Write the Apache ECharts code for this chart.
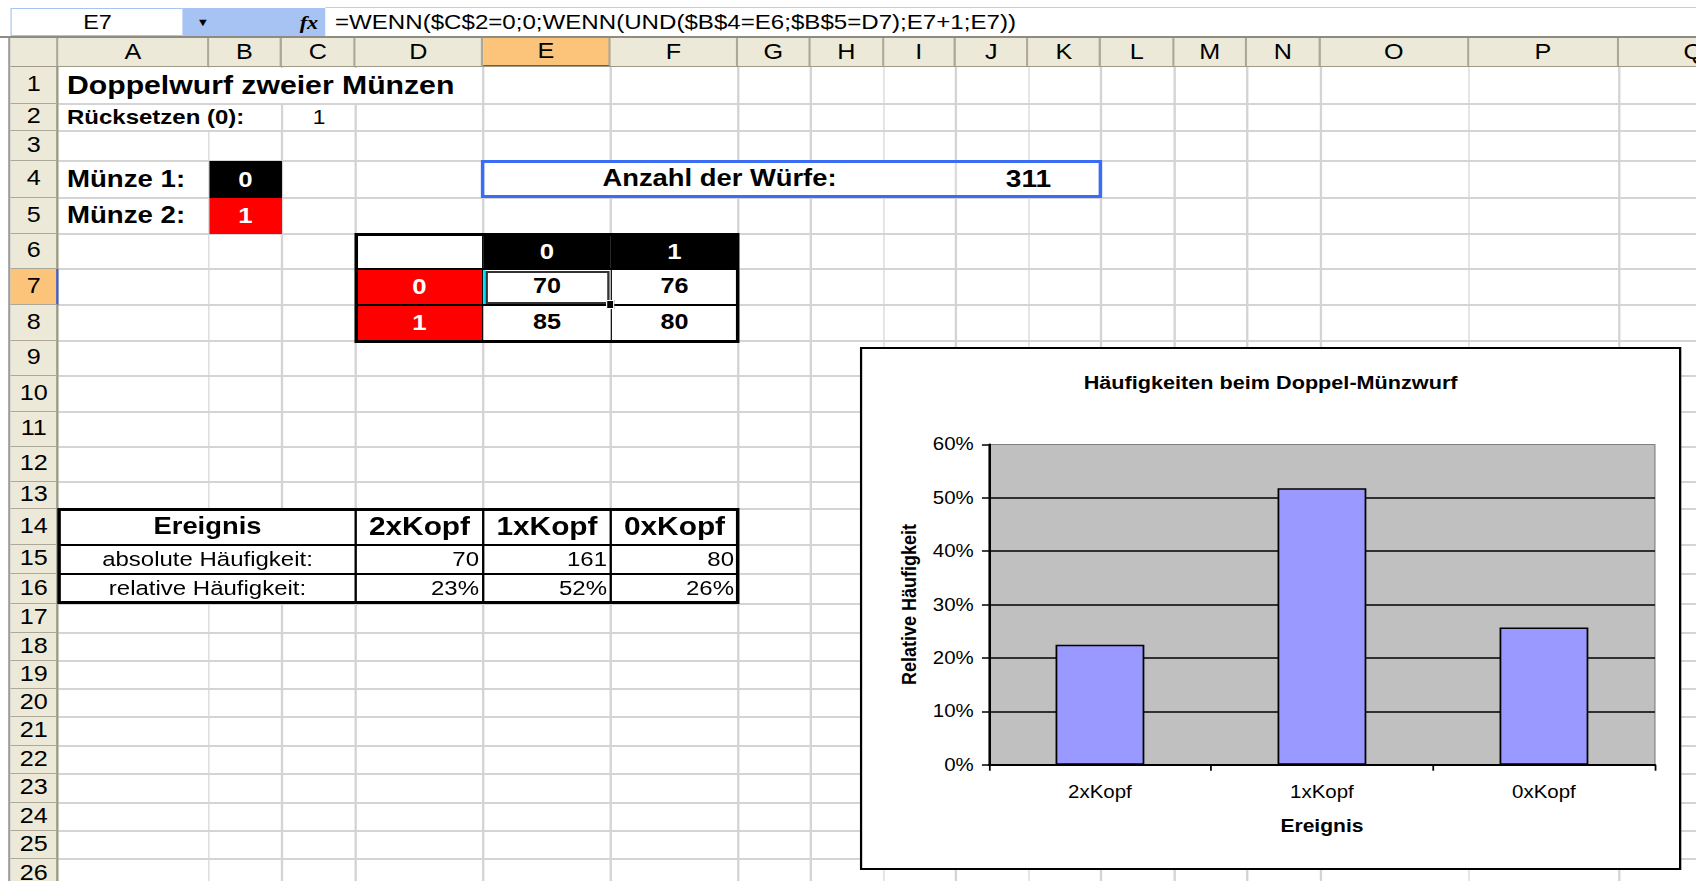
<!DOCTYPE html>
<html lang="de">
<head>
<meta charset="utf-8">
<title>Häufigkeiten beim Doppel-Münzwurf</title>
<script src="https://cdn.jsdelivr.net/npm/echarts@6/dist/echarts.min.js"></script>
<style>
html,body{margin:0;padding:0;width:1696px;height:881px;overflow:hidden;background:#fff;}
#page{position:absolute;left:0;top:0;height:881px;transform-origin:0 0;overflow:hidden;font-family:"Liberation Sans",Arial,Helvetica,sans-serif;}
</style>
</head>
<body>
<div id="page"></div>
<script>
// ---------------- data ----------------
const categories = ['2xKopf', '1xKopf', '0xKopf'];
const absoluteCounts = [70, 161, 80];
const relativeShares = [0.225, 0.518, 0.257];
const relativeLabels = ['23%', '52%', '26%'];
const yTickLabels = ['0%', '10%', '20%', '30%', '40%', '50%', '60%'];
const coinFaces = ['0', '1'];
const throwMatrix = [[70, 76], [85, 80]];
const totalThrows = 311;
const resetValue = 1;
const coin1 = '0';
const coin2 = '1';
const formulaText = '=WENN($C$2=0;0;WENN(UND($B$4=E6;$B$5=D7);E7+1;E7))';

// ---------------- layout ----------------
const S = 1.17;                 // horizontal stretch of the reference screenshot
const X = v => v / S;
const FONT = '"Liberation Sans", Arial, Helvetica, sans-serif';
const page = document.getElementById('page');
page.style.width = X(1696) + 'px';
page.style.transform = 'scaleX(' + S + ')';

const colEdges = [59, 209, 282, 356, 483, 611, 738, 811, 884, 956, 1029, 1101, 1175, 1247, 1321, 1469, 1619, 1770];
const colNames = 'ABCDEFGHIJKLMNOPQ'.split('');
const rowEdges = [67, 104, 131, 161, 198, 234, 269, 305, 341, 376, 412, 447, 482, 509, 545, 574, 604, 633, 661, 689, 717, 746, 774, 803, 831, 859, 890];

const HDR = '#ECE9D8', HDR_LINE = '#ACA899', ORANGE = '#FBC47A', GRID = '#D4D4D4';

function box(x1, y1, x2, y2, css) {
  const d = document.createElement('div');
  d.style.position = 'absolute';
  d.style.boxSizing = 'border-box';
  d.style.left = X(x1) + 'px';
  d.style.width = X(x2 - x1) + 'px';
  d.style.top = y1 + 'px';
  d.style.height = (y2 - y1) + 'px';
  Object.assign(d.style, css || {});
  page.appendChild(d);
  return d;
}
function txt(x1, y1, x2, y2, text, o) {
  o = o || {};
  const d = box(x1, y1, x2, y2, {
    display: 'flex', alignItems: 'center',
    justifyContent: o.align === 'left' ? 'flex-start' : (o.align === 'right' ? 'flex-end' : 'center'),
    paddingLeft: (o.pl || 0) + 'px', paddingRight: (o.pr || 0) + 'px',
    fontFamily: o.family || FONT, fontSize: o.size + 'px',
    fontWeight: o.bold ? 'bold' : 'normal', fontStyle: o.italic ? 'italic' : 'normal',
    color: o.color || '#000', background: o.bg || 'transparent',
    whiteSpace: 'nowrap', lineHeight: '1'
  });
  d.textContent = text;
  return d;
}
function hline(x1, x2, y, w, c) { return box(x1, y - w / 2, x2, y + w / 2, { background: c }); }
function vline(x, y1, y2, w, c) { return box(x - w / 2, y1, x + w / 2, y2, { background: c }); }

// ---- formula bar ----
box(0, 0, 1696, 38, { background: '#fff' });
hline(325, 1696, 7.5, 1.5, '#B9D1F5');
box(11, 8, 183, 36, { background: '#A6C3F4' });
box(12, 9, 183, 35, { background: '#fff' });
txt(12, 9, 183, 35, 'E7', { size: 20 });
box(183, 8, 325, 36, { background: '#A6C3F4' });
txt(192, 8, 214, 36, '\u25BC', { size: 11 });
txt(295, 8, 323, 36, 'fx', { size: 19, italic: true, bold: true, family: '"Liberation Serif","DejaVu Serif",serif' });
txt(325, 8, 1696, 36, formulaText, { align: 'left', pl: X(10), size: 20.6 });
hline(0, 1696, 37, 2.5, '#8E8C80');

// ---- left frame ----
box(0, 38, 11, 881, { background: '#fff' });
vline(9.5, 38, 881, 3, '#9C9C9C');

// ---- gridlines ----
box(59, 67, 1696, 881, { background: '#fff' });
for (let j = 1; j < rowEdges.length; j++) hline(59, 1696, rowEdges[j], 2, GRID);
for (let i = 1; i < colEdges.length; i++) vline(colEdges[i], 67, 881, 2, GRID);

// ---- column headers ----
box(11, 38, 59, 67, { background: HDR, borderRight: '2px solid ' + HDR_LINE });
for (let i = 0; i < colNames.length; i++) {
  const d = txt(colEdges[i], 38, colEdges[i + 1], 67, colNames[i], { size: 21.5, bg: i === 4 ? ORANGE : HDR });
  d.style.borderRight = '2px solid ' + HDR_LINE;
  if (i === 4) d.style.borderBottom = '2px solid #3A5FCD';
}
hline(11, 1696, 66.5, 1.5, '#9D9A88');

// ---- row headers ----
for (let j = 0; j < rowEdges.length - 1; j++) {
  const d = txt(11, rowEdges[j], 59, rowEdges[j + 1], String(j + 1), { size: 21.5, bg: j === 6 ? ORANGE : HDR });
  d.style.borderBottom = '1.5px solid ' + HDR_LINE;
  d.style.borderRight = '2px solid ' + (j === 6 ? '#3A5FCD' : '#9D9A88');
}

// ---- row 1 / 2 ----
txt(60, 68, 482, 103, 'Doppelwurf zweier Münzen', { align: 'left', pl: X(7), size: 25.8, bold: true, bg: '#fff' });
txt(60, 105, 281, 130, 'Rücksetzen (0):', { align: 'left', pl: X(7), size: 20.5, bold: true, bg: '#fff' });
txt(283, 105, 355, 130, String(resetValue), { size: 19.5 });

// ---- coins ----
txt(60, 162, 208, 197, 'Münze 1:', { align: 'left', pl: X(7), size: 23.6, bold: true });
txt(60, 199, 208, 233, 'Münze 2:', { align: 'left', pl: X(7), size: 23.6, bold: true });
txt(209, 161, 282, 198, coin1, { size: 22, bold: true, color: '#fff', bg: '#000' });
txt(209, 198, 282, 234, coin2, { size: 22, bold: true, color: '#fff', bg: '#FF0000' });

// ---- number of throws ----
box(481, 160, 1102, 198, { background: '#fff', border: '3px solid #3B6CF4' });
vline(956, 163, 195, 2, '#DCDCDC');
txt(483, 161, 956, 197, 'Anzahl der Würfe:', { size: 23.4, bold: true });
txt(956, 161, 1101, 197, String(totalThrows), { size: 24, bold: true });

// ---- 2x2 table ----
box(356, 234, 483, 269, { background: '#fff' });
const cx = [483, 611, 738], ry = [269, 305, 341];
for (let k = 0; k < 2; k++) {
  txt(cx[k], 234, cx[k + 1], 269, coinFaces[k], { size: 22, bold: true, color: '#fff', bg: '#000' });
  txt(356, ry[k], 483, ry[k + 1], coinFaces[k], { size: 22, bold: true, color: '#fff', bg: '#FF0000' });
  for (let m = 0; m < 2; m++) {
    txt(cx[m], ry[k], cx[m + 1], ry[k + 1], String(throwMatrix[k][m]), { size: 21.5, bold: true, bg: '#fff' });
  }
}
hline(356, 738, 269, 1.5, '#000');
hline(356, 738, 305, 1.5, '#000');
vline(483, 234, 341, 1.5, '#000');
vline(611, 269, 341, 1.5, '#000');
box(354.5, 232.5, 739.5, 342.5, { border: '3px solid #000' });
// selected cell E7
vline(484.5, 270, 304, 1.5, '#00E0FF');
box(486, 270.5, 610, 304, { border: '2px solid #333' });
box(606, 300, 614, 309, { background: '#000', border: '1px solid #fff' });

// ---- frequency table ----
box(59, 509, 738, 602, { background: '#fff' });
txt(59, 509, 356, 545, 'Ereignis', { size: 23.4, bold: true });
txt(59, 545, 356, 574, 'absolute Häufigkeit:', { size: 20.5 });
txt(59, 574, 356, 602, 'relative Häufigkeit:', { size: 20.5 });
const tx = [356, 483, 611, 738];
for (let i = 0; i < categories.length; i++) {
  txt(tx[i], 509, tx[i + 1], 545, categories[i], { size: 25.5, bold: true });
  txt(tx[i], 545, tx[i + 1], 574, String(absoluteCounts[i]), { size: 20.5, align: 'right', pr: X(4) });
  txt(tx[i], 574, tx[i + 1], 602, relativeLabels[i], { size: 20.5, align: 'right', pr: X(4) });
}
hline(59, 738, 545, 2.5, '#000');
hline(59, 738, 574, 1.5, '#000');
vline(356, 509, 602, 2, '#000');
vline(483, 509, 602, 2, '#000');
vline(611, 509, 602, 2, '#000');
box(57.5, 507.5, 739.5, 603.5, { border: '3px solid #000' });

// ---------------- chart ----------------
const outer = box(860, 347, 1681, 870, { background: '#fff', border: '2px solid #000' });
const chartDiv = document.createElement('div');
chartDiv.style.cssText = 'position:absolute;left:0;top:0;right:0;bottom:0;';
outer.appendChild(chartDiv);
const chart = echarts.init(chartDiv, null, { renderer: 'svg' });

const innerX0 = X(860) + 2, innerY0 = 349;
const gridLeft = X(989) - innerX0;
const gridTop = 444.5 - innerY0;
const gridW = X(666);
const gridH = 320.2;

const axisFont = { fontFamily: FONT, color: '#000' };
chart.setOption({
  animation: false,
  backgroundColor: '#fff',
  title: {
    text: 'Häufigkeiten beim Doppel-Münzwurf',
    left: 'center', top: 18,
    textStyle: Object.assign({ fontSize: 18.5, fontWeight: 'bold', lineHeight: 22 }, axisFont)
  },
  grid: {
    left: gridLeft, top: gridTop, width: gridW, height: gridH,
    show: true, backgroundColor: '#C0C0C0', borderColor: '#808080', borderWidth: 1
  },
  xAxis: {
    type: 'category',
    data: categories,
    name: 'Ereignis', nameLocation: 'middle', nameGap: 52,
    nameTextStyle: Object.assign({ fontSize: 18, fontWeight: 'bold' }, axisFont),
    axisLine: { show: true, lineStyle: { color: '#000', width: 2 } },
    axisTick: { show: true, alignWithLabel: false, interval: 0, length: 6, lineStyle: { color: '#000', width: 1.5 } },
    axisLabel: Object.assign({ margin: 18, fontSize: 17.5, interval: 0 }, axisFont),
    splitLine: { show: false }
  },
  yAxis: {
    type: 'value', min: 0, max: 0.6, interval: 0.1,
    name: 'Relative Häufigkeit', nameLocation: 'middle', nameRotate: 90, nameGap: 60,
    nameTextStyle: Object.assign({ fontSize: 18, fontWeight: 'bold' }, axisFont),
    axisLine: { show: true, lineStyle: { color: '#000', width: 2 } },
    axisTick: { show: true, length: 6, lineStyle: { color: '#000', width: 1.5 } },
    axisLabel: Object.assign({ margin: 13, fontSize: 17.5, formatter: v => yTickLabels[Math.round(v * 10)] }, axisFont),
    splitLine: { show: true, showMaxLine: false, lineStyle: { color: '#000', width: 1.5 } }
  },
  series: [{
    type: 'bar',
    data: relativeShares,
    barWidth: '40%',
    itemStyle: { color: '#9999FF', borderColor: '#000', borderWidth: 1.5 }
  }]
});
</script>
</body>
</html>
